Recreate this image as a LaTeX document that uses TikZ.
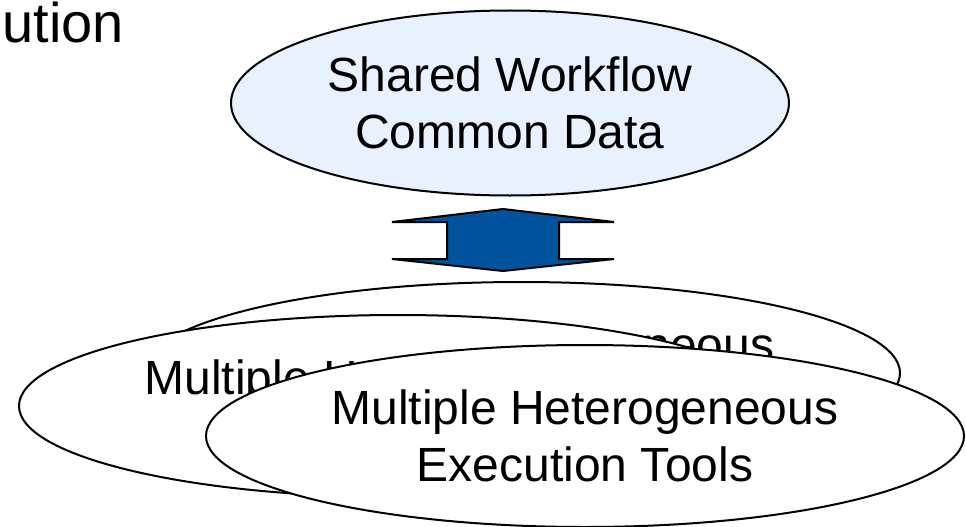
\documentclass[tikz,border=0pt]{standalone}
\usepackage{fontspec}
\setmainfont{Liberation Sans}
\usetikzlibrary{shapes.geometric}
\definecolor{paleblue}{RGB}{232,241,254}
\definecolor{arrowblue}{RGB}{0,83,156}

\begin{document}
\begin{tikzpicture}[x=1pt,y=-1pt,color=black,every path/.append style={line width=2pt},
  blob/.style={ellipse,draw,fill=white,align=center,inner sep=0pt,
    font=\fontsize{48}{57.6}\selectfont,minimum width=758pt,minimum height=182pt}]
\useasboundingbox (0,0) rectangle (966,527);
\node[anchor=base east,inner sep=0pt,font=\fontsize{56}{67}\selectfont] (title) at (125,43) {ution};
\node[blob,fill=paleblue,minimum width=558pt,minimum height=185pt] (shared) at (510,103) {Shared Workflow\\Common Data};
\draw[fill=arrowblue] (503,209) -- (614,222) -- (559,222) -- (559,259) -- (614,259) -- (503,271)
	-- (392,259) -- (447,259) -- (447,222) -- (392,222) -- cycle;
\node[blob] (back) at (521,373) {Multiple Heterogeneous\\Execution Tools};
\node[blob] (middle) at (398,406) {Multiple Heterogeneous\\Execution Tools};
\node[blob] (front) at (585,436) {Multiple Heterogeneous\\Execution Tools};
\end{tikzpicture}
\end{document}
